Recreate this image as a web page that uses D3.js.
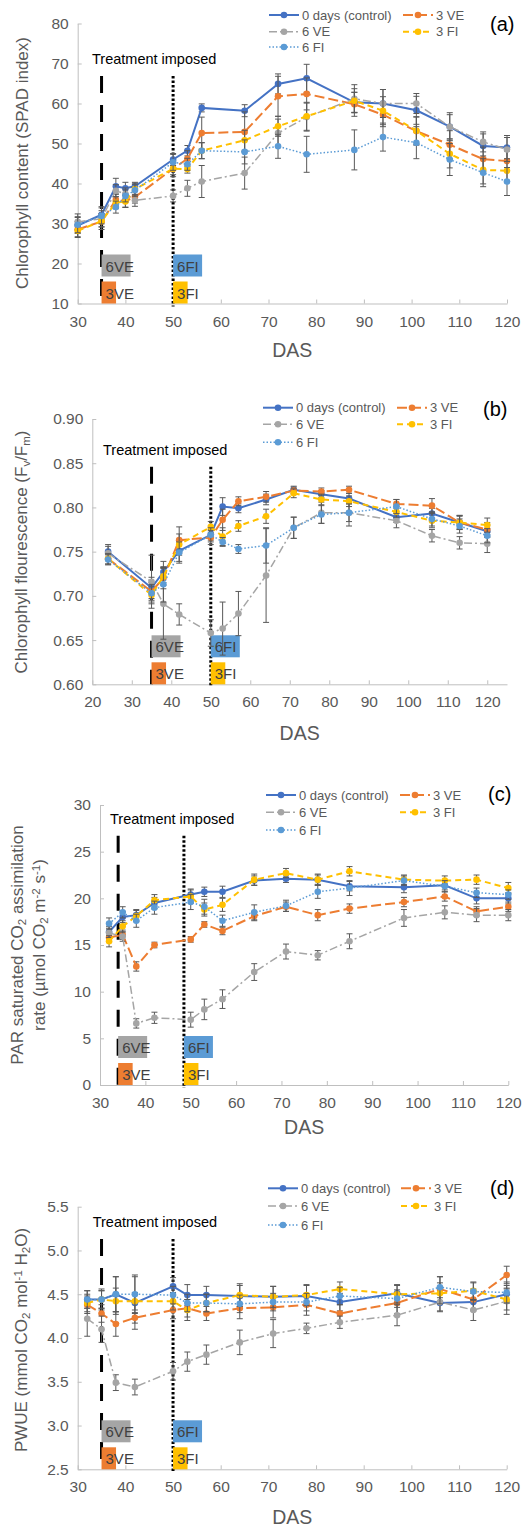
<!DOCTYPE html>
<html>
<head>
<meta charset="utf-8">
<script src="https://cdn.jsdelivr.net/npm/d3@7/dist/d3.min.js"></script>
<style>
body { margin: 0; background: #fff; }
svg { display: block; font-family: "Liberation Sans", Arial, sans-serif; }
</style>
</head>
<body>
<div id="chart"></div>
<script>
// series order everywhere: control, 3 VE, 6 VE, 3 FI, 6 FI
var seriesNames = ["0 days (control)", "3 VE", "6 VE", "3 FI", "6 FI"];

// (a) chlorophyll content, SPAD
var dasA = [30, 35, 38, 40, 42, 50, 53, 56, 65, 72, 78, 88, 94, 101, 108, 115, 120];
var ctrlA = [29.5, 32.2, 39.3, 38.8, 39.3, 46.0, 48.2, 58.9, 58.2, 64.9, 66.3, 60.3, 60.0, 58.3, 54.2, 49.4, 49.0];
var ve3A = [28.5, 30.5, 35.9, 35.6, 36.6, 43.7, 46.2, 52.6, 52.9, 61.8, 62.4, 59.8, 57.2, 53.1, 49.7, 46.1, 45.6];
var ve6A = [30.4, 31.2, 38.2, 37.4, 35.8, 36.9, 38.8, 40.5, 42.6, 52.6, 56.6, 61.2, 60.0, 60.0, 54.2, 50.4, 48.5];
var fi3A = [28.2, 30.6, 35.2, 35.5, 38.6, 43.7, 43.6, 48.2, 50.8, 54.3, 56.8, 60.7, 58.2, 53.2, 47.4, 43.4, 43.2];
var fi6A = [29.7, 31.9, 34.1, 36.9, 38.3, 45.3, 44.8, 48.2, 47.9, 49.3, 47.3, 48.4, 51.6, 50.2, 46.0, 42.7, 40.5];
var errCtrlA = [2, 2, 2, 1.5, 1, 1.5, 1.3, 1, 1.5, 2.5, 3.5, 2.5, 3.5, 3.5, 3, 3, 3];
var errVe3A = [2, 2, 1.5, 1.5, 1.5, 2, 2, 4, 5, 5, 4, 3, 3, 3.5, 3.5, 3, 2.5];
var errVe6A = [2, 2, 1.5, 1.5, 1.5, 1.5, 2, 4, 4, 3.5, 3.5, 3.5, 3.5, 2.5, 3.5, 2.5, 3];
var errFi3A = [1.5, 1.5, 1.5, 1.5, 1.5, 1.5, 1, 2, 2.5, 2.5, 3.5, 3, 3.5, 3.5, 3.5, 3.5, 3];
var errFi6A = [2, 2, 1.5, 1.5, 1.5, 2, 1.5, 2, 3, 3, 4.5, 5, 3.5, 4, 4, 3.5, 3.5];
var yTicksA = [10, 20, 30, 40, 50, 60, 70, 80];

// (b) chlorophyll fluorescence Fv/Fm
var dasB = [24, 35, 38, 42, 50, 53, 57, 64, 71, 78, 85, 97, 106, 113, 120];
var ctrlB = [0.750, 0.709, 0.727, 0.751, 0.769, 0.801, 0.799, 0.809, 0.820, 0.815, 0.810, 0.789, 0.793, 0.783, 0.773];
var ve3B = [0.742, 0.705, 0.720, 0.763, 0.766, 0.786, 0.807, 0.812, 0.819, 0.818, 0.820, 0.804, 0.802, 0.783, 0.775];
var ve6B = [0.748, 0.716, 0.691, 0.679, 0.658, 0.663, 0.680, 0.723, 0.777, 0.794, 0.794, 0.785, 0.768, 0.760, 0.759];
var fi3B = [0.742, 0.701, 0.722, 0.758, 0.778, 0.767, 0.779, 0.790, 0.816, 0.809, 0.807, 0.795, 0.785, 0.783, 0.780];
var fi6B = [0.741, 0.703, 0.713, 0.749, 0.769, 0.761, 0.753, 0.757, 0.777, 0.792, 0.794, 0.801, 0.787, 0.779, 0.768];
var errCtrlB = [0.008, 0.012, 0.012, 0.012, 0.006, 0.01, 0.005, 0.006, 0.004, 0.004, 0.006, 0.006, 0.006, 0.007, 0.007];
var errVe3B = [0.006, 0.01, 0.012, 0.015, 0.008, 0.012, 0.005, 0.006, 0.004, 0.004, 0.004, 0.005, 0.008, 0.008, 0.008];
var errVe6B = [0.008, 0.03, 0.04, 0.012, 0.015, 0.03, 0.025, 0.053, 0.012, 0.012, 0.015, 0.008, 0.007, 0.007, 0.01];
var errFi3B = [0.006, 0.01, 0.01, 0.012, 0.006, 0.01, 0.006, 0.008, 0.005, 0.006, 0.006, 0.006, 0.008, 0.008, 0.008];
var errFi6B = [0.006, 0.01, 0.02, 0.012, 0.008, 0.005, 0.005, 0.02, 0.012, 0.01, 0.01, 0.008, 0.008, 0.008, 0.008];
var yTicksB = [0.60, 0.65, 0.70, 0.75, 0.80, 0.85, 0.90];

// (c) PAR saturated CO2 assimilation rate
var dasC = [32, 35, 38, 42, 50, 53, 57, 64, 71, 78, 85, 97, 106, 113, 120];
var ctrlC = [16.4, 18.0, 18.2, 19.5, 20.4, 20.7, 20.7, 21.9, 22.1, 22.0, 21.3, 21.2, 21.4, 20.0, 20.0];
var ve3C = [15.8, 16.1, 12.7, 15.0, 15.6, 17.2, 16.5, 18.1, 19.1, 18.2, 18.9, 19.6, 20.2, 18.6, 19.1];
var ve6C = [16.3, 15.9, 6.6, 7.2, 7.0, 8.1, 9.2, 12.1, 14.3, 13.9, 15.4, 17.9, 18.5, 18.2, 18.2];
var fi3C = [15.4, 17.0, 18.1, 19.8, 20.2, 18.8, 19.3, 22.0, 22.7, 22.0, 22.9, 22.0, 21.9, 22.0, 21.1];
var fi6C = [17.3, 18.5, 17.6, 19.0, 19.6, 19.1, 17.6, 18.5, 19.2, 20.7, 21.1, 21.9, 21.3, 20.6, 20.4];
var errCtrlC = [0.6, 0.6, 0.6, 0.6, 0.6, 0.5, 0.6, 0.5, 0.4, 0.5, 0.5, 0.6, 0.5, 0.6, 0.6];
var errVe3C = [0.5, 0.5, 0.5, 0.3, 0.3, 0.3, 0.4, 0.5, 0.5, 0.6, 0.5, 0.5, 0.5, 0.5, 0.5];
var errVe6C = [0.5, 0.5, 0.5, 0.6, 0.8, 1.1, 1.0, 0.9, 0.8, 0.5, 0.8, 0.9, 0.7, 0.7, 0.6];
var errFi3C = [0.6, 0.6, 0.6, 0.6, 0.7, 0.7, 0.7, 0.6, 0.5, 0.6, 0.5, 0.5, 0.5, 0.5, 0.6];
var errFi6C = [0.6, 0.6, 0.7, 0.7, 0.8, 0.8, 0.6, 0.8, 0.6, 0.7, 0.8, 0.5, 0.6, 0.5, 0.5];
var yTicksC = [0, 5, 10, 15, 20, 25, 30];

// (d) PWUE
var dasD = [32, 35, 38, 42, 50, 53, 57, 64, 71, 78, 85, 97, 106, 113, 120];
var ctrlD = [4.44, 4.44, 4.50, 4.40, 4.59, 4.49, 4.49, 4.48, 4.47, 4.48, 4.41, 4.51, 4.40, 4.41, 4.50];
var ve3D = [4.38, 4.28, 4.16, 4.23, 4.32, 4.34, 4.28, 4.34, 4.35, 4.38, 4.28, 4.40, 4.56, 4.44, 4.72];
var ve6D = [4.22, 4.10, 3.49, 3.44, 3.62, 3.73, 3.81, 3.95, 4.05, 4.11, 4.18, 4.26, 4.41, 4.32, 4.42];
var fi3D = [4.40, 4.44, 4.42, 4.42, 4.42, 4.32, 4.40, 4.49, 4.47, 4.49, 4.56, 4.50, 4.51, 4.54, 4.44];
var fi6D = [4.44, 4.44, 4.50, 4.50, 4.49, 4.40, 4.40, 4.39, 4.41, 4.41, 4.48, 4.45, 4.58, 4.53, 4.52];
var errCtrlD = [0.1, 0.12, 0.2, 0.3, 0.1, 0.12, 0.1, 0.12, 0.12, 0.12, 0.1, 0.1, 0.1, 0.1, 0.1];
var errVe3D = [0.1, 0.1, 0.14, 0.06, 0.1, 0.1, 0.08, 0.12, 0.12, 0.12, 0.1, 0.12, 0.14, 0.12, 0.1];
var errVe6D = [0.2, 0.15, 0.09, 0.09, 0.1, 0.11, 0.11, 0.14, 0.16, 0.06, 0.07, 0.12, 0.1, 0.12, 0.15];
var errFi3D = [0.1, 0.1, 0.15, 0.1, 0.1, 0.12, 0.1, 0.13, 0.12, 0.12, 0.08, 0.1, 0.12, 0.1, 0.12];
var errFi6D = [0.1, 0.1, 0.2, 0.22, 0.1, 0.1, 0.1, 0.1, 0.1, 0.1, 0.1, 0.1, 0.12, 0.1, 0.12];
var yTicksD = [2.5, 3.0, 3.5, 4.0, 4.5, 5.0, 5.5];

var xTicks = [30, 40, 50, 60, 70, 80, 90, 100, 110, 120];
var xTicksB = [20, 30, 40, 50, 60, 70, 80, 90, 100, 110, 120];

var styles = [
    {color: "#4472C4", dash: null, w: 2},
    {color: "#ED7D31", dash: "10,4", w: 2},
    {color: "#A5A5A5", dash: "8,3,2,3", w: 1.5},
    {color: "#FFC000", dash: "6,4", w: 2},
    {color: "#5B9BD5", dash: "1.5,2", w: 1.5}
];
var legendPos = [[0, 0], [1, 0], [0, 1], [1, 1], [0, 2]];

var svg = d3.select("#chart").append("svg")
    .attr("width", 525)
    .attr("height", 1529);
svg.append("rect").attr("width", 525).attr("height", 1529).attr("fill", "#fff");

function drawPanel(p) {
    var g = svg.append("g");
    var x = d3.scaleLinear().domain(p.xDomain).range([p.left, p.right]);
    var y = d3.scaleLinear().domain(p.yDomain).range([p.bottom, p.top]);

    var yAxis = d3.axisLeft(y).tickValues(p.yTicks).tickSizeInner(-4).tickSizeOuter(0)
        .tickPadding(9).tickFormat(p.yFormat);
    var xAxis = d3.axisBottom(x).tickValues(p.xTicks).tickSizeInner(-4).tickSizeOuter(0)
        .tickPadding(12);

    var ya = g.append("g").attr("transform", "translate(" + p.left + ",0)").call(yAxis);
    var xa = g.append("g").attr("transform", "translate(0," + p.bottom + ")").call(xAxis);
    [ya, xa].forEach(function (a) {
        a.select(".domain").attr("stroke", "#bfbfbf");
        a.selectAll(".tick line").attr("stroke", "#bfbfbf");
        a.selectAll(".tick text").attr("fill", "#595959").style("font-size", "15.5px");
    });

    // treatment lines
    g.append("line")
        .attr("x1", x(p.t1)).attr("x2", x(p.t1))
        .attr("y1", y(p.tTop)).attr("y2", p.bottom)
        .attr("stroke", "#000").attr("stroke-width", 3)
        .attr("stroke-dasharray", "17,12");
    g.append("line")
        .attr("x1", x(p.t2)).attr("x2", x(p.t2))
        .attr("y1", y(p.tTop)).attr("y2", p.bottom + 3)
        .attr("stroke", "#000").attr("stroke-width", 3)
        .attr("stroke-dasharray", "2.5,2");
    g.append("text")
        .attr("x", p.tTextX).attr("y", y(p.tTop) - 12)
        .style("font-size", "14.5px").attr("fill", "#000")
        .text("Treatment imposed");

    // treatment boxes
    var boxes = [
        {x0: x(p.t1), w: 29, lift: 27, fill: "#A5A5A5", label: "6VE"},
        {x0: x(p.t1), w: 14.5, lift: 0, fill: "#ED7D31", label: "3VE"},
        {x0: x(p.t2), w: 29, lift: 27, fill: "#5B9BD5", label: "6FI"},
        {x0: x(p.t2), w: 14.5, lift: 0, fill: "#FFC000", label: "3FI"}
    ];
    boxes.forEach(function (b) {
        g.append("rect")
            .attr("x", b.x0).attr("y", p.bottom - b.lift - 22)
            .attr("width", b.w).attr("height", 22)
            .attr("fill", b.fill);
        g.append("text")
            .attr("x", b.x0 + 4).attr("y", p.bottom - b.lift - 5)
            .style("font-size", "15px").attr("fill", "#404040")
            .text(b.label);
    });

    // series
    var line = d3.line().x(function (d) { return x(d[0]); }).y(function (d) { return y(d[1]); });
    p.series.forEach(function (vals, si) {
        var st = styles[si];
        var pts = p.das.map(function (d, i) { return [d, vals[i], p.errs[si][i]]; });
        var eg = g.append("g").attr("stroke", "#595959").attr("stroke-width", 1);
        pts.forEach(function (d) {
            var cx = x(d[0]);
            var y1 = y(d[1] + d[2]), y2 = y(d[1] - d[2]);
            eg.append("line").attr("x1", cx).attr("x2", cx).attr("y1", y1).attr("y2", y2);
            eg.append("line").attr("x1", cx - 3).attr("x2", cx + 3).attr("y1", y1).attr("y2", y1);
            eg.append("line").attr("x1", cx - 3).attr("x2", cx + 3).attr("y1", y2).attr("y2", y2);
        });
        g.append("path").datum(pts)
            .attr("d", line)
            .attr("fill", "none")
            .attr("stroke", st.color)
            .attr("stroke-width", st.w)
            .attr("stroke-dasharray", st.dash);
        g.selectAll(null).data(pts).enter().append("circle")
            .attr("cx", function (d) { return x(d[0]); })
            .attr("cy", function (d) { return y(d[1]); })
            .attr("r", 3.3)
            .attr("fill", st.color);
    });

    // legend
    seriesNames.forEach(function (name, si) {
        var st = styles[si];
        var lx = p.legX[legendPos[si][0]];
        var ly = p.legY[legendPos[si][1]];
        g.append("line")
            .attr("x1", lx).attr("x2", lx + 30).attr("y1", ly).attr("y2", ly)
            .attr("stroke", st.color).attr("stroke-width", st.w)
            .attr("stroke-dasharray", st.dash);
        g.append("circle").attr("cx", lx + 15).attr("cy", ly).attr("r", 3.3).attr("fill", st.color);
        g.append("text")
            .attr("x", lx + 33).attr("y", ly + 4.5)
            .style("font-size", "13px").attr("fill", "#595959")
            .text(name);
    });

    g.append("text")
        .attr("x", p.tagX).attr("y", p.tagY)
        .style("font-size", "20px").attr("fill", "#000")
        .text(p.tag);

    // x title
    g.append("text")
        .attr("x", (p.left + p.right) / 2).attr("y", p.dasY)
        .attr("text-anchor", "middle")
        .style("font-size", "19.5px").attr("fill", "#595959")
        .text("DAS");

    // y title, one or more lines of [text, subscript/superscript parts]
    p.yTitle.forEach(function (ln) {
        var t = g.append("text")
            .attr("transform", "translate(" + ln.x + "," + p.yTitleMid + ") rotate(-90)")
            .attr("text-anchor", "middle")
            .style("font-size", "17px").attr("fill", "#595959");
        ln.parts.forEach(function (pt) {
            var s = t.append("tspan").text(pt[0]);
            if (pt[1] == "sub") s.attr("baseline-shift", "-25%").style("font-size", "11.5px");
            if (pt[1] == "sup") s.attr("baseline-shift", "40%").style("font-size", "11.5px");
        });
    });
}

drawPanel({
    das: dasA, series: [ctrlA, ve3A, ve6A, fi3A, fi6A],
    errs: [errCtrlA, errVe3A, errVe6A, errFi3A, errFi6A],
    xDomain: [30, 120], yDomain: [10, 80], xTicks: xTicks, yTicks: yTicksA,
    yFormat: d3.format("d"),
    left: 77.7, right: 507, top: 23.5, bottom: 303.5,
    t1: 35, t2: 50, tTop: 66.9, tTextX: 92,
    legX: [269, 403], legY: [15, 31.7, 47], tag: "(a)", tagX: 490, tagY: 31,
    dasY: 357, yTitleMid: 163,
    yTitle: [{x: 28, parts: [["Chlorophyll content  (SPAD index)"]]}]
});

drawPanel({
    das: dasB, series: [ctrlB, ve3B, ve6B, fi3B, fi6B],
    errs: [errCtrlB, errVe3B, errVe6B, errFi3B, errFi6B],
    xDomain: [20, 125], yDomain: [0.6, 0.9], xTicks: xTicksB, yTicks: yTicksB,
    yFormat: d3.format(".2f"),
    left: 92.3, right: 507, top: 419, bottom: 684.3,
    t1: 35, t2: 50, tTop: 0.846, tTextX: 103,
    legX: [263, 397], legY: [407.7, 424.3, 442.3], tag: "(b)", tagX: 483, tagY: 416,
    dasY: 740, yTitleMid: 552,
    yTitle: [{x: 27, parts: [["Chlorophyll flourescence (F"], ["v", "sub"], ["/F"], ["m", "sub"], [")"]]}]
});

drawPanel({
    das: dasC, series: [ctrlC, ve3C, ve6C, fi3C, fi6C],
    errs: [errCtrlC, errVe3C, errVe6C, errFi3C, errFi6C],
    xDomain: [30, 120], yDomain: [0, 30], xTicks: xTicks, yTicks: yTicksC,
    yFormat: d3.format("d"),
    left: 100, right: 508.3, top: 805, bottom: 1085,
    t1: 34, t2: 48.5, tTop: 26.7, tTextX: 110,
    legX: [266, 400], legY: [795, 812.3, 830], tag: "(c)", tagX: 488, tagY: 801,
    dasY: 1134, yTitleMid: 945,
    yTitle: [
        {x: 23, parts: [["PAR saturated CO"], ["2", "sub"], [" assimilation"]]},
        {x: 45, parts: [["rate (\u00b5mol CO"], ["2", "sub"], [" m"], ["-2", "sup"], [" s"], ["-1", "sup"], [")"]]}
    ]
});

drawPanel({
    das: dasD, series: [ctrlD, ve3D, ve6D, fi3D, fi6D],
    errs: [errCtrlD, errVe3D, errVe6D, errFi3D, errFi6D],
    xDomain: [30, 120], yDomain: [2.5, 5.5], xTicks: xTicks, yTicks: yTicksD,
    yFormat: d3.format(".1f"),
    left: 77.7, right: 506.7, top: 1206.7, bottom: 1469.3,
    t1: 35, t2: 50, tTop: 5.13, tTextX: 92.7,
    legX: [268, 401], legY: [1188.3, 1206, 1225], tag: "(d)", tagX: 490, tagY: 1195,
    dasY: 1524, yTitleMid: 1340,
    yTitle: [{x: 27, parts: [["PWUE (mmol CO"], ["2", "sub"], [" mol"], ["-1", "sup"], [" H"], ["2", "sub"], ["O)"]]}]
});
</script>
</body>
</html>
